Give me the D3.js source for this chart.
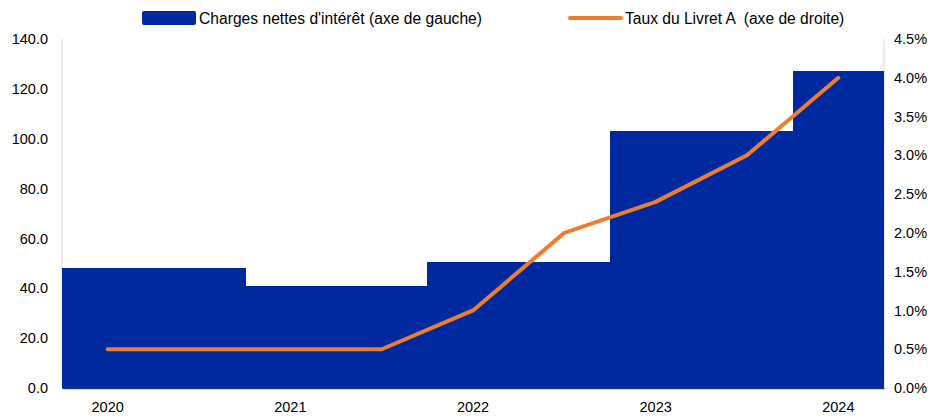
<!DOCTYPE html>
<html>
<head>
<meta charset="utf-8">
<script src="https://cdn.jsdelivr.net/npm/d3@7"></script>
<style>
  body { margin: 0; background: #fff; }
  text { font-family: "Liberation Sans", Arial, sans-serif; }
</style>
</head>
<body>
<div id="chart"></div>
<script>
'use strict'

// half-year slots, year label shown on the first half
const periods = ['2020', '2020-S2', '2021', '2021-S2', '2022', '2022-S2', '2023', '2023-S2', '2024']
const periodLabels = ['2020', '', '2021', '', '2022', '', '2023', '', '2024']
const charges = [48.2, 48.2, 41.0, 41.0, 50.5, 50.5, 103.2, 103.2, 127.3]
const livretA = [0.5, 0.5, 0.5, 0.5, 1.0, 2.0, 2.4, 3.0, 4.0]
const leftTicks = [0, 20, 40, 60, 80, 100, 120, 140]
const rightTicks = [0, 0.5, 1, 1.5, 2, 2.5, 3, 3.5, 4, 4.5]
const legendLabels = ["Charges nettes d'intérêt (axe de gauche)", 'Taux du Livret A  (axe de droite)']

const svgWidth = 945, svgHeight = 417
const margin = { left: 62, right: 61, top: 39, bottom: 29 }
const width = svgWidth - margin.left - margin.right
const height = svgHeight - margin.top - margin.bottom

const blue = '#0029a0', orange = '#ed7d31'

const svg = d3.select('#chart')
    .append('svg')
    .attr('width', svgWidth)
    .attr('height', svgHeight)

const g = svg.append('g')
    .attr('transform', `translate(${margin.left},${margin.top})`)

const x = d3.scaleBand().domain(periods).range([0, width]).padding(0)
const yL = d3.scaleLinear().domain([0, 140]).range([height, 0])
const yR = d3.scaleLinear().domain([0, 4.5]).range([height, 0])

// side axis lines (light grey)
g.append('line').attr('x1', 0).attr('x2', 0).attr('y1', 0).attr('y2', height)
    .attr('stroke', '#d9d9d9')
g.append('line').attr('x1', width).attr('x2', width).attr('y1', 0).attr('y2', height)
    .attr('stroke', '#d9d9d9')

// bars
g.selectAll('.bar')
    .data(charges)
    .join('rect')
    .attr('class', 'bar')
    .attr('x', (d, i) => x(periods[i]))
    .attr('width', (d, i) => x.bandwidth() + (i < periods.length - 1 ? 1 : 0))
    .attr('y', d => yL(d))
    .attr('height', d => height - yL(d))
    .attr('fill', blue)
    .attr('shape-rendering', 'crispEdges')

// line
const line = d3.line()
    .x((d, i) => x(periods[i]) + x.bandwidth() / 2)
    .y(d => yR(d))

g.append('path')
    .datum(livretA)
    .attr('d', line)
    .attr('fill', 'none')
    .attr('stroke', orange)
    .attr('stroke-width', 4)
    .attr('stroke-linecap', 'round')
    .attr('stroke-linejoin', 'round')

// axes
const leftAxis = g.append('g')
    .call(d3.axisLeft(yL).tickValues(leftTicks).tickFormat(d3.format('.1f')).tickSize(0).tickPadding(14))
leftAxis.select('.domain').remove()

const rightAxis = g.append('g')
    .attr('transform', `translate(${width},0)`)
    .call(d3.axisRight(yR).tickValues(rightTicks).tickFormat(d => d3.format('.1f')(d) + '%').tickSize(0).tickPadding(10))
rightAxis.select('.domain').remove()

const bottomAxis = g.append('g')
    .attr('transform', `translate(0,${height})`)
    .call(d3.axisBottom(x).tickFormat((d, i) => periodLabels[i]).tickSize(0).tickPadding(14))
bottomAxis.select('.domain').attr('stroke', '#1f3a78').attr('stroke-width', 1.5)

svg.selectAll('.tick text')
    .attr('font-size', 14.5)
    .attr('fill', '#000')
    .style('font-family', '"Liberation Sans", Arial, sans-serif')

// legend
const legend = svg.append('g')
legend.append('rect')
    .attr('x', 142).attr('y', 11).attr('width', 54).attr('height', 14)
    .attr('rx', 2)
    .attr('fill', blue)
legend.append('text')
    .attr('x', 199).attr('y', 23.5)
    .attr('font-size', 15.6)
    .attr('textLength', 283)
    .text(legendLabels[0])

legend.append('line')
    .attr('x1', 570).attr('x2', 621).attr('y1', 18).attr('y2', 18)
    .attr('stroke', orange).attr('stroke-width', 4).attr('stroke-linecap', 'round')
legend.append('text')
    .attr('x', 625).attr('y', 23.5)
    .attr('font-size', 15.6)
    .style('white-space', 'pre')
    .text(legendLabels[1])
</script>
</body>
</html>
